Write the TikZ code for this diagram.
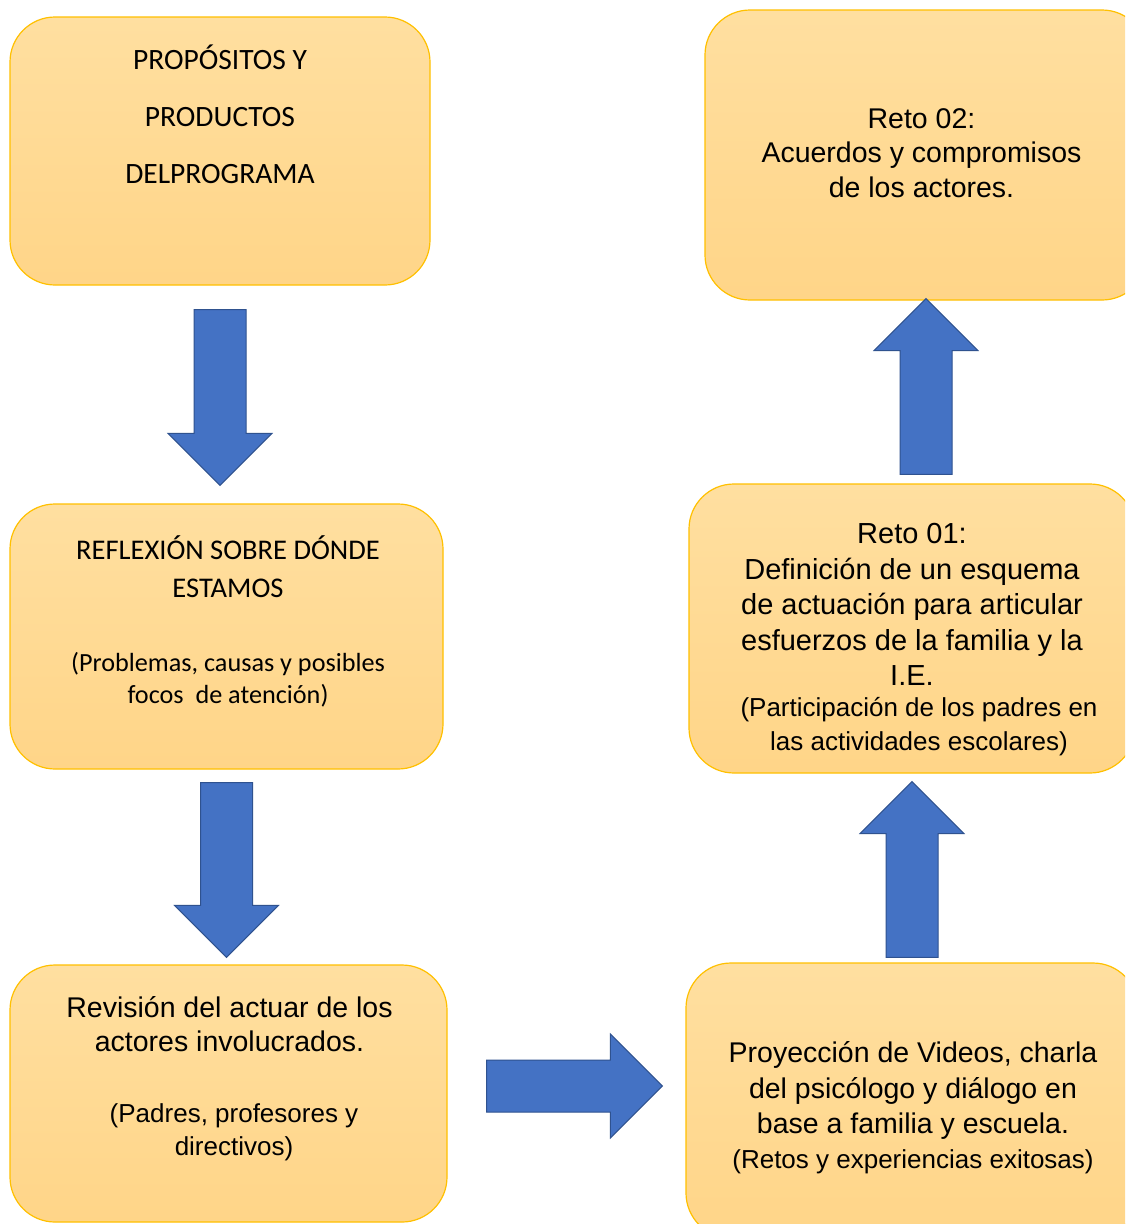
\documentclass[tikz,border=0pt]{standalone}
\usepackage{fontspec}
\setmainfont{Liberation Sans}
\newfontfamily\calibrifont{Carlito}
\usetikzlibrary{calc}
\definecolor{boxedge}{HTML}{FFC000}
\definecolor{boxtop}{HTML}{FFDFA0}
\definecolor{boxbot}{HTML}{FFD588}
\definecolor{arrfill}{HTML}{4472C4}
\definecolor{arredge}{HTML}{2F528F}
\tikzset{
  box/.style={draw=boxedge, line width=1.2pt, rounded corners=45pt,
    top color=boxtop, bottom color=boxbot, inner sep=0pt},
  barrow/.style={fill=arrfill, draw=arredge, line width=1pt, line join=miter},
  txt/.style={align=center, inner sep=0pt, text=black},
}
% block arrow from #1 (tail centre) to #2 (tip), helper name #3
\newcommand\blockarr[3]{%
  \coordinate (#3h) at ($(#2)!52pt!(#1)$);
  \draw[barrow] ($(#1)!26pt!90:(#2)$) -- ($(#3h)!26pt!90:(#2)$)
    -- ($(#3h)!52pt!90:(#2)$) -- (#2) -- ($(#3h)!52pt!-90:(#2)$)
    -- ($(#3h)!26pt!-90:(#2)$) -- ($(#1)!26pt!-90:(#2)$) -- cycle;}
\begin{document}
\begin{tikzpicture}[x=1pt,y=-1pt]
\useasboundingbox (0,0) rectangle (1125,1224);
\clip (0,0) rectangle (1125,1224);
\fill[white] (0,0) rectangle (1125,1224);

% boxes
\node[box, minimum width=420pt, minimum height=268pt] (b1) at (220,151) {};
\node[box, minimum width=433pt, minimum height=265pt] (b2) at (226.5,636.5) {};
\node[box, minimum width=437pt, minimum height=257pt] (b3) at (228.5,1093.5) {};
\node[box, minimum width=452pt, minimum height=275pt] (b4) at (912,1100.5) {};
\node[box, minimum width=446pt, minimum height=289pt] (b5) at (912,628.5) {};
\node[box, minimum width=442pt, minimum height=290pt] (b6) at (926,155) {};

% texts
\node[txt, font=\calibrifont\fontsize{29.5}{57}\selectfont] (t1) at (220,114)
  {PROPÓSITOS Y\\PRODUCTOS\\DELPROGRAMA};
\node[txt, font=\calibrifont\fontsize{28.5}{38}\selectfont] (t2) at (228,621)
  {REFLEXIÓN SOBRE DÓNDE\\ESTAMOS\\[36pt]
   {\fontsize{26.2}{32}\selectfont (Problemas, causas y posibles}\\[-6pt]
   {\fontsize{26.2}{32}\selectfont focos\ \ de atención)}};
\node[txt, font=\fontsize{28.5}{34}\selectfont] (t3) at (229.5,1079)
  {Revisión del actuar de los\\actores involucrados.\\[37pt]
   {\fontsize{26}{32}\selectfont \hspace*{9pt}(Padres, profesores y}\\[-1pt]
   {\fontsize{26}{32}\selectfont \hspace*{9pt}directivos)}};
\node[txt, font=\fontsize{28.5}{35.5}\selectfont] (t4) at (913,1108)
  {Proyección de Videos, charla\\del psicólogo y diálogo en\\base a familia y escuela.\\[-0.5pt]
   {\fontsize{26}{32}\selectfont (Retos y experiencias exitosas)}};
\node[txt, font=\fontsize{29}{35.5}\selectfont] (t5) at (912,640)
  {Reto 01:\\Definición de un esquema\\de actuación para articular\\esfuerzos de la familia y la\\I.E.\\[-4.5pt]
   {\fontsize{26}{32}\selectfont \hspace*{14pt}(Participación de los padres en}\\[-1.5pt]
   {\fontsize{26}{32}\selectfont \hspace*{14pt}las actividades escolares)}};
\node[txt, font=\fontsize{28.5}{34.5}\selectfont] (t6) at (921.5,153)
  {Reto 02:\\Acuerdos y compromisos\\de los actores.};

% arrows
\coordinate (a1s) at ($(b1.south)+(0,24)$);
\coordinate (a1e) at ($(b1.south |- b2.north)+(0,-18)$);
\blockarr{a1s}{a1e}{a1}
\coordinate (a2s) at ($(b2.south)+(0,13)$);
\coordinate (a2e) at ($(b2.south |- b3.north)+(0,-7)$);
\blockarr{a2s}{a2e}{a2}
\coordinate (a3s) at ($(b3.east)+(39,-7.5)$);
\coordinate (a3e) at ($(b4.west |- a3s)+(-23,0)$);
\blockarr{a3s}{a3e}{a3}
\coordinate (a4s) at ($(b4.north)+(0,-5)$);
\coordinate (a4e) at ($(b5.south)+(0,8)$);
\blockarr{a4s}{a4e}{a4}
\coordinate (a5s) at ($(b6.south |- b5.north)+(0,-9)$);
\coordinate (a5e) at ($(b6.south)+(0,-2)$);
\blockarr{a5s}{a5e}{a5}
\end{tikzpicture}
\end{document}
